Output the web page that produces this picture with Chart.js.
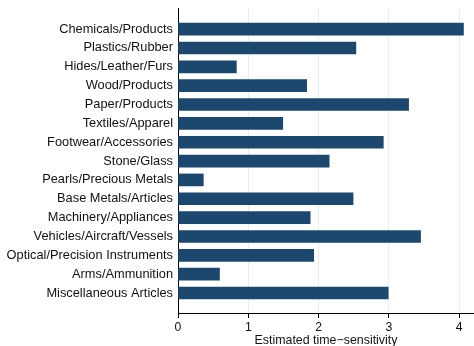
<!DOCTYPE html>
<html>
<head>
<meta charset="utf-8">
<script src="https://cdn.jsdelivr.net/npm/chart.js@4/dist/chart.umd.min.js"></script>
<style>
  body { margin: 0; background: #fff; }
  #wrap { width: 474px; height: 346px; }
</style>
</head>
<body>
<div id="wrap"><canvas id="myChart" width="474" height="346"></canvas></div>
<script>
var categories = [
  "Chemicals/Products", "Plastics/Rubber", "Hides/Leather/Furs", "Wood/Products",
  "Paper/Products", "Textiles/Apparel", "Footwear/Accessories", "Stone/Glass",
  "Pearls/Precious Metals", "Base Metals/Articles", "Machinery/Appliances",
  "Vehicles/Aircraft/Vessels", "Optical/Precision Instruments", "Arms/Ammunition",
  "Miscellaneous Articles"
];
var values = [4.06, 2.53, 0.83, 1.83, 3.28, 1.49, 2.92, 2.15, 0.36, 2.49, 1.88, 3.45, 1.93, 0.59, 2.99];
var xTicks = [0, 1, 2, 3, 4];
var xTitle = "Estimated time\u2212sensitivity";

var points = [];
values.forEach((v, i) => {
  points.push({x: v, y: i});
});

const family = "'Liberation Sans', Arial, sans-serif";
const labelFont = { family: family, size: 12.8 };
const tickFont = { family: family, size: 12.2 };
const titleFont = { family: family, size: 12.4 };

const config = {
  type: 'bar',
  data: {
    datasets: [{
      data: points,
      backgroundColor: '#1c476f',
      borderWidth: 0,
      barThickness: 12
    }]
  },
  options: {
    indexAxis: 'y',
    responsive: false,
    animation: false,
    layout: { padding: { top: 8, right: 0, left: 0, bottom: 0 } },
    plugins: {
      legend: { display: false },
      tooltip: { enabled: false }
    },
    scales: {
      x: {
        type: 'linear',
        min: 0,
        max: 4.21,
        afterBuildTicks: function(scale) {
          scale.ticks = xTicks.map(v => ({value: v}));
        },
        afterFit: function(scale) {
          scale.height = 33;
          scale.paddingLeft = 0;
          scale.paddingRight = 0;
        },
        ticks: { color: '#111', font: tickFont, padding: 2, maxRotation: 0 },
        grid: { color: '#e6eef0', tickColor: '#000', tickLength: 5, lineWidth: 1 },
        border: { color: '#000', width: 1 },
        title: { display: true, text: xTitle, color: '#111', font: titleFont, padding: { top: 5, bottom: -2 } }
      },
      y: {
        type: 'linear',
        reverse: true,
        offset: false,
        min: -1.12,
        max: 15.06,
        afterBuildTicks: function(scale) {
          scale.ticks = categories.map((c, i) => ({value: i}));
        },
        afterFit: function(scale) {
          scale.width = 178;
          scale.paddingTop = 0;
          scale.paddingBottom = 0;
        },
        ticks: {
          color: '#111',
          font: labelFont,
          padding: 5,
          autoSkip: false,
          callback: function(value) { return categories[value]; }
        },
        grid: { display: false, drawTicks: false, offset: false },
        border: { color: '#000', width: 1 }
      }
    }
  }
};

const myChart = new Chart(document.getElementById('myChart'), config);
</script>
</body>
</html>
